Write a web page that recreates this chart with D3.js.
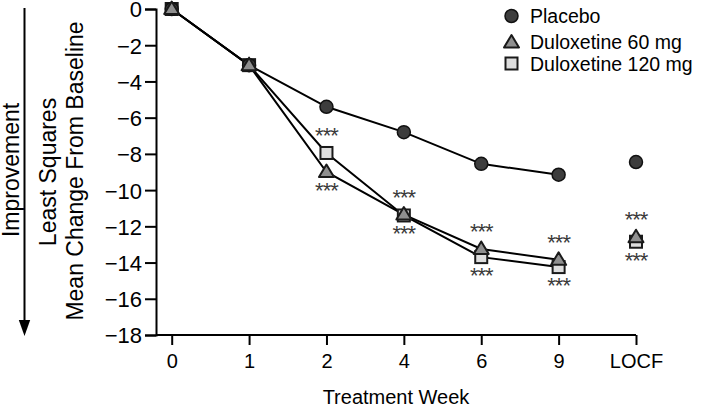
<!DOCTYPE html>
<html><head><meta charset="utf-8">
<script src="https://cdn.jsdelivr.net/npm/d3@7"></script>
<style>body{margin:0;background:#fff}svg{display:block}text{font-family:"Liberation Sans",Arial,sans-serif}</style>
</head><body><svg id="c" width="725" height="407"></svg>
<script>
const categories = ["0","1","2","4","6","9","LOCF"];
const placebo = [0,-3.1,-5.4,-6.8,-8.55,-9.15,-8.45];
const dulox60 = [0,-3.1,-9.0,-11.35,-13.25,-13.85,-12.6];
const dulox120 = [0,-3.1,-7.95,-11.4,-13.7,-14.25,-12.85];
const yTicks = [0,-2,-4,-6,-8,-10,-12,-14,-16,-18];
const sigWeeks = ["2","4","6","9","LOCF"];
const seriesNames = ["Placebo","Duloxetine 60 mg","Duloxetine 120 mg"];

const svg = d3.select("#c");
const x = d3.scalePoint().domain(categories).range([171.7, 636]);
const y = d3.scaleLinear().domain([-18, 0]).range([335, 9]);
const fmt = d => d3.format("")(d);

// axes
const ya = svg.append("g").attr("transform","translate(156,0)")
  .call(d3.axisLeft(y).tickValues(yTicks).tickSize(11).tickPadding(3).tickFormat(fmt));
const xa = svg.append("g").attr("transform","translate(0,335)")
  .call(d3.axisBottom(x).tickSize(10).tickPadding(9));
[ya,xa].forEach(a=>{
  a.select(".domain").attr("stroke","#000").attr("stroke-width",2);
  a.selectAll(".tick line").attr("stroke","#000").attr("stroke-width",2);
  a.selectAll("text").attr("fill","#000").attr("font-family","Liberation Sans, Arial, sans-serif");
});
ya.selectAll("text").attr("font-size",22).attr("dy","0.36em");
xa.selectAll("text").attr("font-size",20);
xa.select(".domain").attr("d","M156,0H636");

// titles
svg.append("text").attr("x",396).attr("y",404).attr("text-anchor","middle").attr("font-size",20).text("Treatment Week");
svg.append("text").attr("transform","translate(56,172) rotate(-90)").attr("text-anchor","middle").attr("font-size",23).text("Least Squares");
svg.append("text").attr("transform","translate(83,171) rotate(-90)").attr("text-anchor","middle").attr("font-size",23).text("Mean Change From Baseline");
svg.append("text").attr("transform","translate(19,170) rotate(-90)").attr("text-anchor","middle").attr("font-size",23).text("Improvement");
// arrow
svg.append("line").attr("x1",24.5).attr("x2",24.5).attr("y1",8).attr("y2",321).attr("stroke","#000").attr("stroke-width",2);
svg.append("path").attr("d","M18.8,320 L30.2,320 L24.5,336 Z").attr("fill","#000");

// lines (exclude LOCF)
const lineGen = d3.line().x(d=>x(d.c)).y(d=>y(d.v));
function pts(arr){return categories.map((c,i)=>({c,v:arr[i]}));}
[placebo,dulox120,dulox60].forEach(arr=>{
  svg.append("path").datum(pts(arr).filter(d=>d.c!=="LOCF")).attr("d",lineGen)
    .attr("fill","none").attr("stroke","#000").attr("stroke-width",2);
});

// markers
const sq = 12;
function square(g,cx,cy){g.append("rect").attr("x",cx-sq/2).attr("y",cy-sq/2).attr("width",sq).attr("height",sq).attr("fill","#dedede").attr("stroke","#1a1a1a").attr("stroke-width",2);}
function circle(g,cx,cy){g.append("circle").attr("cx",cx).attr("cy",cy).attr("r",6.5).attr("fill","#3d3d3d").attr("stroke","#111").attr("stroke-width",1.5);}
function tri(g,cx,cy){g.append("path").attr("d",`M${cx},${cy-7.5} L${cx+7.5},${cy+5} L${cx-7.5},${cy+5} Z`).attr("fill","#8f8f8f").attr("stroke","#1a1a1a").attr("stroke-width",2).attr("stroke-linejoin","round");}
const mg = svg.append("g");
pts(dulox120).forEach(d=>square(mg,x(d.c),y(d.v)));
pts(placebo).forEach(d=>circle(mg,x(d.c),y(d.v)));
pts(dulox60).forEach(d=>tri(mg,x(d.c),y(d.v)));

// significance asterisks
sigWeeks.forEach(c=>{
  const i = categories.indexOf(c);
  const top = Math.max(dulox60[i],dulox120[i]);
  const bot = Math.min(dulox60[i],dulox120[i]);
  [y(top)-10, y(bot)+26].forEach(yy=>{
    svg.append("text").attr("x",x(c)).attr("y",yy).attr("text-anchor","middle")
      .attr("font-family","Liberation Serif, serif").attr("font-size",22).attr("fill","#3a3a3a")
      .attr("letter-spacing",-1).text("***");
  });
});

// legend
const lg = svg.append("g");
const ly = [16,41.5,63.5];
circle(lg,511.5,ly[0]); tri(lg,511.5,ly[1]+1); square(lg,511.5,ly[2]);
seriesNames.forEach((n,i)=>lg.append("text").attr("x",530).attr("y",ly[i]+7).attr("font-size",19.5).text(n));
</script></body></html>
